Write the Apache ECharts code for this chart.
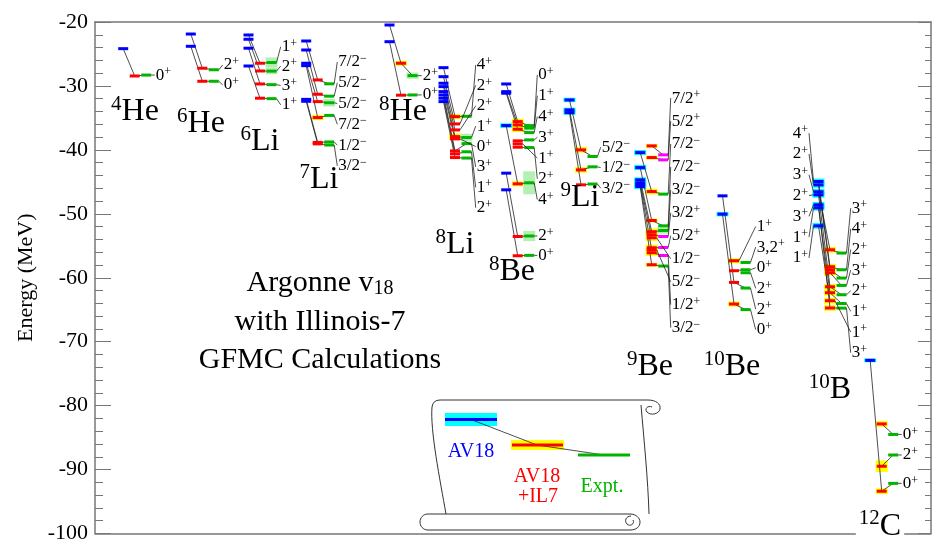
<!DOCTYPE html>
<html>
<head>
<meta charset="utf-8">
<script src="https://cdn.jsdelivr.net/npm/echarts/dist/echarts.min.js"></script>
<style>
html, body { margin: 0; padding: 0; background: #fff; }
#main { width: 937px; height: 554px; }
</style>
</head>
<body>
<div id="main"></div>
<script>
// one row per level: [J^pi, AV18, AV18+IL7, Expt, dAV18, dIL7, dExpt]  (MeV)
var He4 = [
	['0+', -24.17, -28.44, -28.30]
];
var He6 = [
	['2+', -21.88, -27.23, -27.47],
	['0+', -23.80, -29.27, -29.27]
];
var Li6 = [
	['1+', -22.03, -26.45, -26.34, 0, 0, 0.8],
	['2+', -22.70, -27.66, -27.68, 0, 0, 0.5],
	['3+', -24.10, -29.69, -29.80],
	['1+', -26.88, -31.92, -31.99]
];
var Li7 = [
	['7/2−', -22.97, -29.06, -29.67],
	['5/2−', -24.38, -31.30, -31.60],
	['5/2−', -26.45, -32.45, -32.63, 0, 0, 0.6],
	['7/2−', -26.83, -34.95, -34.61, 0, 0.4, 0],
	['1/2−', -32.10, -38.83, -38.76],
	['3/2−', -32.40, -39.06, -39.24]
];
var He8 = [
	['2+', -20.47, -26.45, -28.39, 0, 0.4, 0.5],
	['0+', -23.08, -31.45, -31.41]
];
var Li8 = [
	['4+', -27.14, -34.80, -34.75, 0, 0.4, 0],
	['2+', -28.55, -35.94, null],
	['2+', -29.58, -36.88, null],
	['1+', -30.11, -37.92, -38.07, 0, 0.5, 0.6],
	['0+', -30.89, -38.28, null],
	['3+', -31.41, -40.16, -39.02],
	['1+', -31.92, -40.63, -40.30],
	['2+', -32.45, -41.20, -41.28]
];
var Be8 = [
	['0+', -29.69, -35.58, -36.20, 0, 0.45, 0],
	['1+', -30.89, -36.10, -36.60, 0, 0.45, 0],
	['4+', -31.14, -36.77, -37.30, 0, 0.45, 0],
	['3+', null, -38.59, -38.44],
	['1+', null, -39.06, null],
	['2+', null, -39.58, -39.64],
	['4+', -36.20, -45.31, -45.15, 0.35, 0.4, 1.8],
	['2+', -43.64, -53.55, -53.47, 0, 0, 0.8],
	['0+', -46.25, -56.56, -56.50]
];
var Li9 = [
	['5/2−', -32.19, -40.00, -41.04, 0.35, 0.45, 0],
	['1/2−', -33.75, -43.13, -42.65, 0.35, 0.45, 0],
	['3/2−', -34.17, -45.47, -45.34, 0.35, 0, 0]
];
var Be9 = [
	['7/2+', null, -39.38, -40.78, 0, 0.3, 0],
	['5/2+', null, -41.20, -41.56, 0, 0.3, 0],
	['7/2−', -40.42, -46.52, -46.92, 0.4, 0.45, 0],
	['7/2−', -42.77, -51.05, -51.88, 0.4, 0.3, 0],
	['3/2−', -44.69, -52.80, -52.61, 0.4, 0.5, 0.5],
	['3/2+', null, -53.28, -53.55, 0, 0.5, 0],
	['5/2+', null, -55.31, -55.27, 0, 0.5, 0],
	['1/2−', -45.16, -53.75, null, 0.4, 0.5, 0],
	['5/2−', -45.45, -55.63, null, 0.4, 0.5, 0],
	['1/2+', null, -56.09, -56.52, 0, 0.5, 0],
	['3/2−', -45.73, -57.97, -58.17, 0.4, 0.3, 0]
];
var Be10 = [
	['1+', null, -57.34, null, 0, 0.4, 0],
	['3,2+', null, null, -57.61],
	['0+', null, -58.90, -58.75],
	['2+', null, null, -59.22],
	['2+', -47.19, -60.73, -61.61],
	['0+', -50.05, -64.11, -64.98, 0.35, 0.4, 0]
];
var B10 = [
	['3+', -46.56, -55.63, -56.14, 0.45, 0.45, 0],
	['4+', -44.95, -58.28, -58.75, 0.45, 0.45, 0],
	['2+', -45.47, -58.75, -60.05, 0.45, 0.45, 0],
	['3+', null, -59.22, -61.20, 0, 0.45, 0],
	['2+', -47.03, -61.41, -62.66, 0.45, 0.45, 0],
	['1+', -49.06, -62.34, -64.03, 0.45, 0.45, 0],
	['1+', -51.88, -63.59, null, 0.45, 0.45, 0],
	['3+', -48.59, -64.73, -64.75, 0.45, 0.45, 0]
];
var C12 = [
	['0+', null, -82.86, -84.51, 0, 0.45, 0],
	['2+', null, -89.48, -87.72, 0, 0.9, 0],
	['0+', -72.92, -93.39, -92.16, 0.3, 0.45, 0]
];

var nucleusNames = ['4He', '6He', '6Li', '7Li', '8He', '8Li', '8Be', '9Li', '9Be', '10Be', '10B', '12C'];
var nucleusLevels = [He4, He6, Li6, Li7, He8, Li8, Be8, Li9, Be9, Be10, B10, C12];

// placement of each column (x in px from the left axis, label heights in MeV)
var layout = {
	'4He':  {c: 39.7,  lx: 60.7,  inline: 0, nx: 40, ny: -34.06},
	'6He':  {c: 107.3, lx: 128.7, ly: -26.72, dy: -3.13, nx: 106, ny: -35.94},
	'6Li':  {c: 165,   lx: 186.7, ly: -23.86, dy: -3.03, nx: 165, ny: -38.75},
	'7Li':  {c: 222.7, lx: 243.3, ly: -26.25, dy: -3.25, nx: 224, ny: -44.69},
	'8He':  {c: 306,   lx: 327.7, inline: 0, nx: 308, ny: -34.06},
	'8Li':  {c: 360,   lx: 381.7, ly: -26.72, dy: -3.19, nx: 360, ny: -54.84},
	'8Be':  {c: 422.7, lx: 443.3, ly: -28.28, dy: -3.25, inline: 7, nx: 417, ny: -59.06},
	'9Li':  {c: 486,   lx: 506.7, ly: -39.58, dy: -3.2, nx: 485, ny: -47.5},
	'9Be':  {c: 556.7, lx: 576.7, ly: -31.9, dy: -3.59, plusColor: '#ff00ff', nx: 555, ny: -73.9},
	'10Be': {c: 639,   lx: 661.7, ly: -51.98, dy: -3.23, nx: 637, ny: -73.9},
	'10B':  {c: 735,   lx: 756.7, ly: -49.11, dy: -3.23, left: {lx: 713, ly: -37.39, dy: -3.25}, nx: 735, ny: -77.5},
	'12C':  {c: 786.7, lx: 807.7, inline: 0, nx: 785, ny: -98.9, bg: true}
};

var SERIF = 'Liberation Serif';
var BLUE = '#0000ff', RED = '#ff0000', GREEN = '#00b400';
var barColors = [BLUE, RED, GREEN];
var bandColors = ['#00ffff', '#ffff00', '#b4f0b4'];
var OFF = [-11.5, 0, 11.5];

var bands = [], links = [], bars = [], tags = [], names = [];
nucleusNames.forEach(function (name, k) {
	var rows = nucleusLevels[k], L = layout[name];
	names.push({x: L.nx, e: L.ny, name: name, bg: L.bg});
	rows.forEach(function (r, i) {
		var pts = [];
		for (var m = 0; m < 3; m++) {
			var e = r[m + 1];
			if (e == null) continue;
			var x = L.c + OFF[m];
			var color = barColors[m];
			if (m === 2 && L.plusColor && r[0].slice(-1) === '+') color = L.plusColor;
			var s = r[m + 4];
			if (s) bands.push({x: x, e: e, s: s, color: bandColors[m]});
			bars.push({x: x, e: e, color: color});
			pts.push([x, e]);
		}
		for (var j = 1; j < pts.length; j++) links.push([pts[j - 1][0], pts[j - 1][1], pts[j][0], pts[j][1]]);
		var last = pts[pts.length - 1];
		var te = (L.inline != null && i >= L.inline) ? last[1] : L.ly + i * L.dy;
		tags.push({x1: last[0] + 5, e1: last[1], x2: L.lx - 1, e2: te, tx: L.lx, te: te, text: r[0], align: 'left'});
	});
	if (L.left) {
		var withBlue = rows.filter(function (r) { return r[1] != null; })
			.sort(function (a, b) { return b[1] - a[1]; });
		withBlue.forEach(function (r, j) {
			var te = L.left.ly + j * L.left.dy;
			tags.push({x1: L.c + OFF[0] - 5, e1: r[1], x2: L.left.lx + 1, e2: te, tx: L.left.lx, te: te, text: r[0], align: 'right'});
		});
	}
});

var jpiRich = {
	n: {fontFamily: SERIF, fontSize: 17, lineHeight: 18, fill: '#000'},
	s: {fontFamily: SERIF, fontSize: 12, lineHeight: 12, verticalAlign: 'top', fill: '#000'}
};
function jpiText(t) {
	return '{n|' + t.slice(0, -1) + '}{s|' + t.slice(-1) + '}';
}

function renderBand(params, api) {
	var b = bands[params.dataIndex];
	var p1 = api.coord([b.x - 6, b.e + b.s]);
	var p2 = api.coord([b.x + 6, b.e - b.s]);
	return {type: 'rect', shape: {x: p1[0], y: p1[1], width: p2[0] - p1[0], height: p2[1] - p1[1]},
		style: {fill: b.color}};
}
function renderLink(params, api) {
	var l = links[params.dataIndex];
	var a = api.coord([l[0], l[1]]), b = api.coord([l[2], l[3]]);
	return {type: 'line', shape: {x1: a[0], y1: a[1], x2: b[0], y2: b[1]}, style: {stroke: '#222', lineWidth: 0.8}};
}
function renderBar(params, api) {
	var d = bars[params.dataIndex];
	var a = api.coord([d.x - 5, d.e]), b = api.coord([d.x + 5, d.e]);
	return {type: 'line', shape: {x1: a[0], y1: a[1], x2: b[0], y2: b[1]}, style: {stroke: d.color, lineWidth: 3}};
}
function renderTag(params, api) {
	var t = tags[params.dataIndex];
	var a = api.coord([t.x1, t.e1]), b = api.coord([t.x2, t.e2]), p = api.coord([t.tx, t.te]);
	return {type: 'group', children: [
		{type: 'line', shape: {x1: a[0], y1: a[1], x2: b[0], y2: b[1]}, style: {stroke: '#222', lineWidth: 0.8}},
		{type: 'text', x: p[0], y: p[1], style: {text: jpiText(t.text), rich: jpiRich, align: t.align, verticalAlign: 'middle'}}
	]};
}
function renderName(params, api) {
	var d = names[params.dataIndex];
	var p = api.coord([d.x, d.e]);
	var mass = d.name.match(/^\d+/)[0], sym = d.name.slice(mass.length);
	return {type: 'text', x: p[0], y: p[1], style: {
		text: '{m|' + mass + '}{e|' + sym + '}',
		rich: {
			m: {fontFamily: SERIF, fontSize: 21, lineHeight: 21, verticalAlign: 'top', fill: '#000'},
			e: {fontFamily: SERIF, fontSize: 32, lineHeight: 36, fill: '#000'}
		},
		align: 'center', verticalAlign: 'middle',
		backgroundColor: d.bg ? '#fff' : null, padding: d.bg ? [0, 3] : 0
	}};
}

var SCROLL = [
	'M 446 514 C 440 480 430 430 432 407 Q 433 400 440 400 L 648 400',
	'M 648 400 C 656 400 661 404 660 409 C 659 414 651 416 647 412 C 644 409 648 405 652 407',
	'M 641 405 C 644 440 648 480 649 514',
	'M 428 514 L 630 514 C 636 514 640 518 640 522 C 640 527 636 530 630 530 L 428 530 C 423 530 420 526 420 522 C 420 518 423 514 428 514 Z',
	'M 631 516 C 626 516 624 521 627 524 C 630 527 635 524 633 520'
];
function txt(x, y, text, rich) {
	return {type: 'text', x: x, y: y, style: {text: text, rich: rich, align: 'center', verticalAlign: 'middle'}};
}
function renderDecor() {
	var kids = SCROLL.map(function (d) {
		return {type: 'path', shape: {pathData: d}, style: {stroke: '#333', lineWidth: 1, fill: null}};
	});
	kids.push(
		{type: 'rect', shape: {x: 445, y: 413, width: 52, height: 13}, style: {fill: '#00ffff'}},
		{type: 'rect', shape: {x: 511, y: 440, width: 53, height: 10}, style: {fill: '#ffff00'}},
		{type: 'polyline', shape: {points: [[471, 419.5], [537, 445], [604, 455]]}, style: {stroke: '#222', lineWidth: 0.8, fill: null}},
		{type: 'line', shape: {x1: 445, y1: 419.5, x2: 497, y2: 419.5}, style: {stroke: BLUE, lineWidth: 3}},
		{type: 'line', shape: {x1: 512, y1: 445, x2: 563, y2: 445}, style: {stroke: RED, lineWidth: 3}},
		{type: 'line', shape: {x1: 578, y1: 455, x2: 630, y2: 455}, style: {stroke: GREEN, lineWidth: 3}},
		txt(471, 452, '{a|AV18}', {a: {fontFamily: SERIF, fontSize: 20, fill: BLUE}}),
		txt(537, 477, '{a|AV18}', {a: {fontFamily: SERIF, fontSize: 20, fill: RED}}),
		txt(538, 497, '{a|+IL7}', {a: {fontFamily: SERIF, fontSize: 20, fill: RED}}),
		txt(602, 487, '{a|Expt.}', {a: {fontFamily: SERIF, fontSize: 20, fill: GREEN}})
	);
	var big = {
		a: {fontFamily: SERIF, fontSize: 30, lineHeight: 32, fill: '#000'},
		b: {fontFamily: SERIF, fontSize: 20, lineHeight: 20, verticalAlign: 'bottom', fill: '#000'}
	};
	kids.push(
		txt(320, 283, '{a|Argonne v}{b|18}', big),
		txt(320, 322, '{a|with Illinois-7}', big),
		txt(320, 360, '{a|GFMC Calculations}', big)
	);
	return {type: 'group', children: kids};
}

var frame = {show: true, onZero: false, lineStyle: {color: '#777', width: 1.5}};
var chart = echarts.init(document.getElementById('main'));
chart.setOption({
	animation: false,
	backgroundColor: '#fff',
	grid: {left: 95, right: 6, top: 22, bottom: 20.5, containLabel: false, outerBoundsMode: 'none'},
	xAxis: [
		{type: 'value', min: 0, max: 836, position: 'bottom', axisLine: frame,
			axisTick: {show: false}, axisLabel: {show: false}, splitLine: {show: false}},
		{type: 'value', min: 0, max: 836, position: 'top', axisLine: frame,
			axisTick: {show: false}, axisLabel: {show: false}, splitLine: {show: false}}
	],
	yAxis: [
		{type: 'value', min: -100, max: -20, interval: 10, position: 'left',
			name: 'Energy (MeV)', nameLocation: 'middle', nameGap: 50,
			nameTextStyle: {fontFamily: SERIF, fontSize: 22, color: '#000'},
			axisLine: frame,
			axisTick: {inside: true, length: 16, lineStyle: {color: '#777'}},
			minorTick: {show: true, splitNumber: 5, length: 8, lineStyle: {color: '#777'}},
			axisLabel: {fontFamily: SERIF, fontSize: 22, color: '#000', margin: 7},
			splitLine: {show: false}, minorSplitLine: {show: false}},
		{type: 'value', min: -100, max: -20, interval: 10, position: 'right',
			axisLine: frame,
			axisTick: {inside: true, length: 13, lineStyle: {color: '#777'}},
			minorTick: {show: true, splitNumber: 5, length: 6, lineStyle: {color: '#777'}},
			axisLabel: {show: false},
			splitLine: {show: false}, minorSplitLine: {show: false}}
	],
	series: [
		{type: 'custom', silent: true, z: 2, data: bands.map(function (b) { return [b.x, b.e]; }), renderItem: renderBand},
		{type: 'custom', silent: true, z: 3, data: links.map(function (l) { return [l[0], l[1]]; }), renderItem: renderLink},
		{type: 'custom', silent: true, z: 4, data: bars.map(function (b) { return [b.x, b.e]; }), renderItem: renderBar},
		{type: 'custom', silent: true, z: 5, data: tags.map(function (t) { return [t.tx, t.te]; }), renderItem: renderTag},
		{type: 'custom', silent: true, z: 6, data: names.map(function (d) { return [d.x, d.e]; }), renderItem: renderName},
		{type: 'custom', silent: true, z: 6, coordinateSystem: 'none', data: [[0]], renderItem: renderDecor}
	]
});
</script>
</body>
</html>
